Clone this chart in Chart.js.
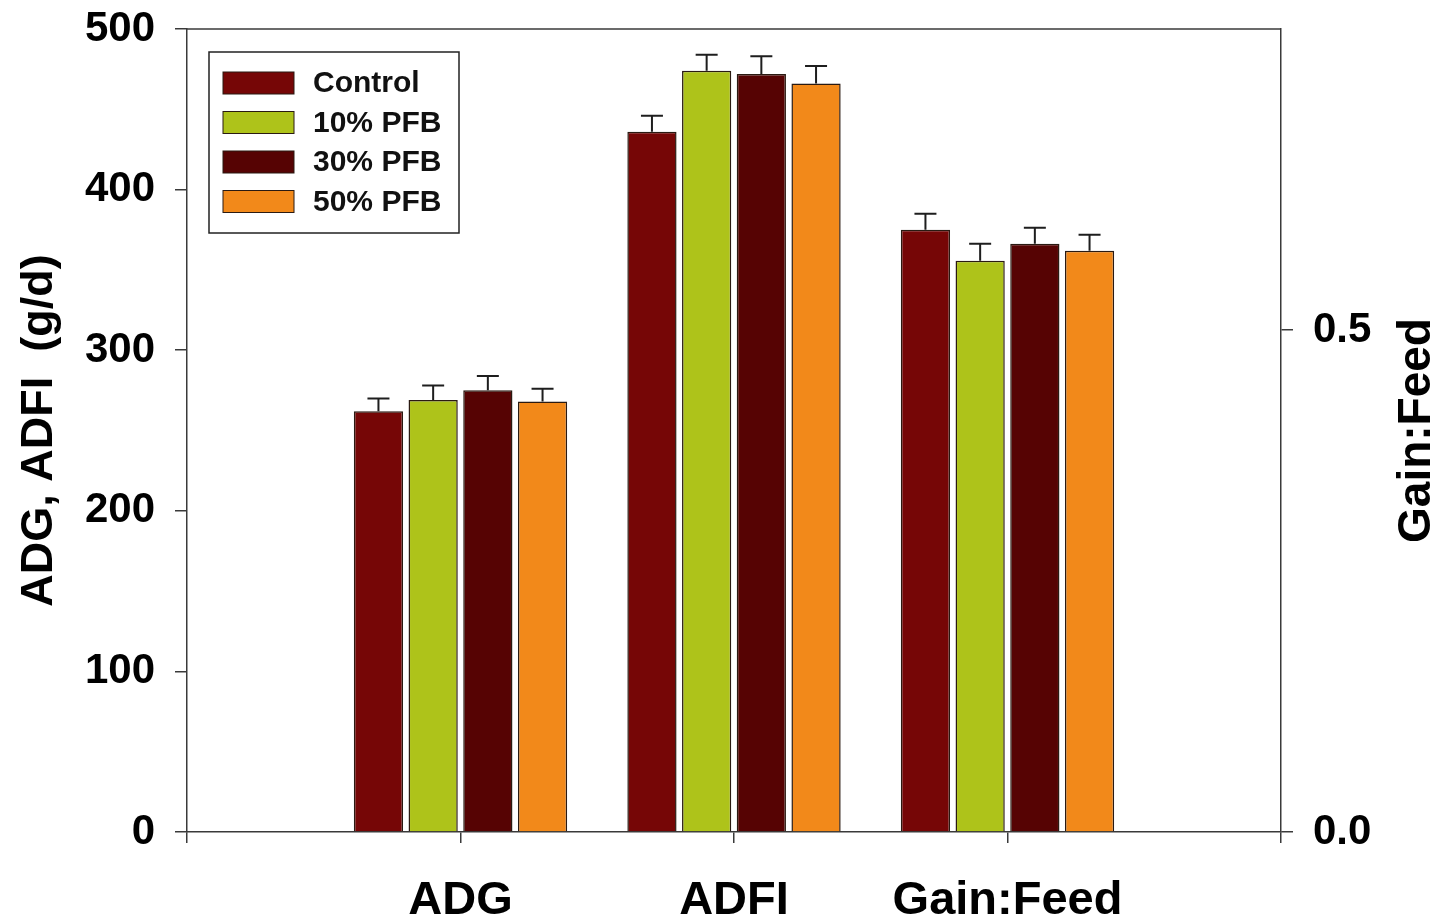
<!DOCTYPE html>
<html>
<head>
<meta charset="utf-8">
<script src="https://cdn.jsdelivr.net/npm/chart.js@4.4.1/dist/chart.umd.min.js"></script>
<style>
  html, body { margin: 0; padding: 0; background: #fff; }
  #wrap { width: 1445px; height: 923px; position: relative; }
</style>
</head>
<body>
<div id="wrap"><canvas id="chart"></canvas></div>
<script>
// x slots: blank slots at both ends so the groups sit on the inner ticks
const categories = ['', 'ADG', 'ADFI', 'Gain:Feed', ''];
const treatments = ['Control', '10% PFB', '30% PFB', '50% PFB'];
const colors     = ['#760606', '#aec31a', '#560303', '#f2891a'];

// g/d, left axis
const adg      = [262, 269, 275, 268];
const adgErr   = [8, 9, 9, 8];
const adfi     = [436, 474, 472, 466];
const adfiErr  = [10, 10, 11, 11];
// ratio, right axis
const gainFeed    = [0.600, 0.569, 0.586, 0.579];
const gainFeedErr = [0.016, 0.017, 0.016, 0.016];

const leftTicks  = [0, 100, 200, 300, 400, 500];
const rightTicks = [0.0, 0.5];

const FONT = "'Liberation Sans', Arial, sans-serif";
const AXIS = '#3a3a3a';

const datasets = [];
treatments.forEach((t, i) => {
  datasets.push({
    label: t,
    data: [null, adg[i], adfi[i], null, null],
    errors: [null, adgErr[i], adfiErr[i], null, null],
    yAxisID: 'y',
    stack: 's' + i,
    backgroundColor: colors[i],
    borderColor: '#2a1a12',
    borderWidth: 1.5,
  });
});
treatments.forEach((t, i) => {
  datasets.push({
    label: t,
    data: [null, null, null, gainFeed[i], null],
    errors: [null, null, null, gainFeedErr[i], null],
    yAxisID: 'y1',
    stack: 's' + i,
    backgroundColor: colors[i],
    borderColor: '#2a1a12',
    borderWidth: 1.5,
  });
});

// upper error bars only
const errorBars = {
  id: 'errorBars',
  afterDatasetsDraw(chart) {
    const { ctx } = chart;
    ctx.save();
    ctx.strokeStyle = '#1e1e1e';
    ctx.lineWidth = 2;
    chart.data.datasets.forEach((ds, di) => {
      const meta = chart.getDatasetMeta(di);
      const scale = chart.scales[ds.yAxisID];
      ds.data.forEach((v, j) => {
        if (v == null || ds.errors[j] == null) return;
        const el = meta.data[j];
        const yTop = scale.getPixelForValue(v + ds.errors[j]);
        ctx.beginPath();
        ctx.moveTo(el.x, el.y);
        ctx.lineTo(el.x, yTop);
        ctx.moveTo(el.x - 11, yTop);
        ctx.lineTo(el.x + 11, yTop);
        ctx.stroke();
      });
    });
    ctx.restore();
  }
};

// top frame, boxed legend and the right-hand title
const frameAndLegend = {
  id: 'frameAndLegend',
  afterDraw(chart) {
    const { ctx, chartArea: { left, right, top, bottom } } = chart;
    ctx.save();
    ctx.strokeStyle = AXIS;
    ctx.lineWidth = 1.5;
    ctx.beginPath();
    ctx.moveTo(left, top);
    ctx.lineTo(right, top);
    ctx.stroke();

    const bx = left + 22, by = top + 23, bw = 250, bh = 181;
    ctx.fillStyle = '#fff';
    ctx.fillRect(bx, by, bw, bh);
    ctx.strokeStyle = '#222';
    ctx.lineWidth = 1.5;
    ctx.strokeRect(bx, by, bw, bh);

    ctx.font = `bold 30px ${FONT}`;
    ctx.textBaseline = 'middle';
    ctx.textAlign = 'left';
    treatments.forEach((t, i) => {
      const cy = by + 31 + i * 39.5;
      ctx.fillStyle = colors[i];
      ctx.fillRect(bx + 14, cy - 11, 71, 22);
      ctx.strokeStyle = '#2a1a12';
      ctx.lineWidth = 1;
      ctx.strokeRect(bx + 14, cy - 11, 71, 22);
      ctx.fillStyle = '#111';
      ctx.fillText(t, bx + 104, cy + 1);
    });

    ctx.translate(1417, (top + bottom) / 2);
    ctx.rotate(-Math.PI / 2);
    ctx.textAlign = 'center';
    ctx.font = `bold 46px ${FONT}`;
    ctx.fillStyle = '#000';
    ctx.fillText('Gain:Feed', 0, 0);
    ctx.restore();
  }
};

// vertical axes: fixed width, no extra room above the top tick label
const fitY = w => s => {
  s.width = w;
  s.paddingTop = 0;
  s.paddingBottom = 0;
};

new Chart(document.getElementById('chart'), {
  type: 'bar',
  data: { labels: categories, datasets },
  plugins: [errorBars, frameAndLegend],
  options: {
    responsive: true,
    maintainAspectRatio: false,
    animation: false,
    layout: { padding: { top: 29, right: 0, bottom: 0, left: 0 } },
    plugins: {
      legend: { display: false },
      tooltip: { enabled: false }
    },
    scales: {
      x: {
        offset: false,
        grid: { offset: false, drawOnChartArea: false, drawTicks: true, tickLength: 11, color: AXIS, lineWidth: 1.5 },
        border: { color: AXIS, width: 1.5 },
        ticks: { font: { family: FONT, size: 47, weight: 'bold' }, color: '#000', padding: 30, maxRotation: 0, autoSkip: false },
        afterFit: s => { s.height = 91; s.paddingLeft = 0; s.paddingRight = 0; }
      },
      y: {
        position: 'left',
        min: 0,
        max: 500,
        afterBuildTicks: s => { s.ticks = leftTicks.map(v => ({ value: v })); },
        grid: { drawOnChartArea: false, drawTicks: true, tickLength: 12, color: AXIS, lineWidth: 1.5 },
        border: { color: AXIS, width: 1.5 },
        ticks: { font: { family: FONT, size: 42, weight: 'bold' }, color: '#000', padding: 20 },
        title: {
          display: true,
          text: 'ADG, ADFI  (g/d)',
          font: { family: FONT, size: 45, weight: 'bold' },
          color: '#000',
          padding: { top: 13, bottom: 0 }
        },
        afterFit: fitY(187)
      },
      y1: {
        position: 'right',
        min: 0,
        max: 0.8,
        afterBuildTicks: s => { s.ticks = rightTicks.map(v => ({ value: v })); },
        grid: { drawOnChartArea: false, drawTicks: true, tickLength: 12, color: AXIS, lineWidth: 1.5 },
        border: { color: AXIS, width: 1.5 },
        ticks: {
          font: { family: FONT, size: 42, weight: 'bold' },
          color: '#000',
          padding: 20,
          callback: v => Number(v).toFixed(1)
        },
        afterFit: fitY(164)
      }
    }
  }
});
</script>
</body>
</html>
